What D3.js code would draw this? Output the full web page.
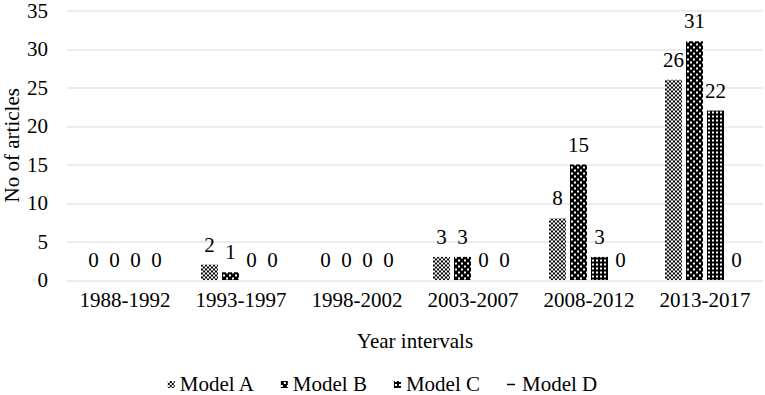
<!DOCTYPE html>
<html>
<head>
<meta charset="utf-8">
<script src="https://cdn.jsdelivr.net/npm/d3@7"></script>
<style>
  body { margin: 0; background: #fff; }
  svg text { font-family: "Liberation Serif", Tinos, "Times New Roman", Times, "DejaVu Serif", serif !important; fill: #000; }
</style>
</head>
<body>
<script>
// Chart data
var categories = ["1988-1992", "1993-1997", "1998-2002", "2003-2007", "2008-2012", "2013-2017"];
var seriesNames = ["Model A", "Model B", "Model C", "Model D"];
var modelA = [0, 2, 0, 3, 8, 26];
var modelB = [0, 1, 0, 3, 15, 31];
var modelC = [0, 0, 0, 0, 3, 22];
var modelD = [0, 0, 0, 0, 0, 0];
var yTicks = [0, 5, 10, 15, 20, 25, 30, 35];

var seriesValues = [modelA, modelB, modelC, modelD];

// Define SVG area dimensions
var svgWidth = 765;
var svgHeight = 395;
var fontSize = 21;

var chartMargin = { top: 10.5, right: 2, bottom: 115, left: 67 };
var chartWidth = svgWidth - chartMargin.left - chartMargin.right;
var chartHeight = svgHeight - chartMargin.top - chartMargin.bottom;

var svg = d3.select("body")
  .append("svg")
  .attr("width", svgWidth)
  .attr("height", svgHeight);

// fill patterns for the bars
var defs = svg.append("defs");

// Model A: fine checkerboard
var pA = defs.append("pattern").attr("id", "patA")
  .attr("patternUnits", "userSpaceOnUse").attr("width", 4).attr("height", 4);
pA.append("rect").attr("width", 4).attr("height", 4).attr("fill", "#fff");
pA.append("rect").attr("width", 2).attr("height", 2).attr("fill", "#000");
pA.append("rect").attr("x", 2).attr("y", 2).attr("width", 2).attr("height", 2).attr("fill", "#000");

// Model B: dark with white dots on a diagonal grid
var pB = defs.append("pattern").attr("id", "patB")
  .attr("patternUnits", "userSpaceOnUse").attr("width", 6).attr("height", 6);
pB.append("rect").attr("width", 6).attr("height", 6).attr("fill", "#000");
pB.append("rect").attr("x", 0).attr("y", 0).attr("width", 2).attr("height", 2).attr("fill", "#fff");
pB.append("rect").attr("x", 3).attr("y", 3).attr("width", 2).attr("height", 2).attr("fill", "#fff");

// Model C: dark with white squares on a square grid
var pC = defs.append("pattern").attr("id", "patC")
  .attr("patternUnits", "userSpaceOnUse").attr("width", 4).attr("height", 4);
pC.append("rect").attr("width", 4).attr("height", 4).attr("fill", "#000");
pC.append("rect").attr("x", 1).attr("y", 1).attr("width", 2).attr("height", 2).attr("fill", "#fff");

var fills = ["url(#patA)", "url(#patB)", "url(#patC)", "#000"];

var chartGroup = svg.append("g")
  .attr("transform", `translate(${chartMargin.left}, ${chartMargin.top})`);

// scales
var x0 = d3.scaleBand()
  .domain(categories)
  .range([0, chartWidth])
  .paddingInner(0.276)
  .paddingOuter(0.138);

var x1 = d3.scaleBand()
  .domain(seriesNames)
  .range([0, x0.bandwidth()])
  .paddingInner(0.19)
  .paddingOuter(0.095);

var yScale = d3.scaleLinear()
  .domain([0, 35])
  .range([chartHeight, 0]);

// gridlines
chartGroup.selectAll(".grid")
  .data(yTicks)
  .enter()
  .append("line")
  .attr("x1", 0)
  .attr("x2", chartWidth)
  .attr("y1", d => Math.round(yScale(d)) + 0.5)
  .attr("y2", d => Math.round(yScale(d)) + 0.5)
  .attr("stroke", "#d9d9d9")
  .attr("stroke-width", 1);

// y axis labels
var yAxis = d3.axisLeft(yScale).tickValues(yTicks).tickSize(0).tickPadding(19);
var yG = chartGroup.append("g").call(yAxis);
yG.select(".domain").remove();
yG.attr("font-family", null).attr("font-size", fontSize);

// x axis labels
var xAxis = d3.axisBottom(x0).tickSize(0).tickPadding(12);
var xG = chartGroup.append("g")
  .attr("transform", `translate(0, ${chartHeight})`)
  .call(xAxis);
xG.select(".domain").remove();
xG.attr("font-family", null).attr("font-size", fontSize);

// bars
var groups = chartGroup.selectAll(".group")
  .data(categories)
  .enter()
  .append("g")
  .attr("transform", d => `translate(${x0(d)}, 0)`);

var cells = groups.selectAll(".cell")
  .data((c, i) => seriesNames.map((s, j) => ({ s: s, j: j, v: seriesValues[j][i] })))
  .enter();

cells.append("rect")
  .attr("x", d => x1(d.s))
  .attr("y", d => yScale(d.v))
  .attr("width", x1.bandwidth())
  .attr("height", d => chartHeight - yScale(d.v))
  .attr("fill", d => fills[d.j]);

cells.append("text")
  .attr("x", d => x1(d.s) + x1.bandwidth() / 2)
  .attr("y", d => yScale(d.v) - 13)
  .attr("text-anchor", "middle")
  .attr("font-size", fontSize)
  .text(d => d.v);

// axis titles
svg.append("text")
  .attr("transform", `translate(19, ${chartMargin.top + chartHeight / 2}) rotate(-90)`)
  .attr("text-anchor", "middle")
  .attr("font-size", fontSize)
  .text("No of articles");

svg.append("text")
  .attr("x", chartMargin.left + chartWidth / 2)
  .attr("y", 348)
  .attr("text-anchor", "middle")
  .attr("font-size", fontSize)
  .text("Year intervals");

// legend
var legend = svg.append("g");
var lx = 0;
var itemGap = 27;
seriesNames.forEach(function(name, j) {
  var item = legend.append("g").attr("transform", `translate(${lx}, 0)`);
  if (j < 3) {
    item.append("rect")
      .attr("x", 0).attr("y", -10)
      .attr("width", 7).attr("height", 7)
      .attr("fill", fills[j]);
  } else {
    item.append("line")
      .attr("x1", 0).attr("x2", 8)
      .attr("y1", -6.5).attr("y2", -6.5)
      .attr("stroke", "#000").attr("stroke-width", 1.5);
  }
  var t = item.append("text")
    .attr("x", j < 3 ? 12 : 15)
    .attr("y", 0)
    .attr("font-size", fontSize)
    .text(name);
  lx += (j < 3 ? 12 : 15) + t.node().getComputedTextLength() + itemGap;
});
var legendWidth = lx - itemGap;
legend.attr("transform", `translate(${svgWidth / 2 - legendWidth / 2}, 391)`);
</script>
</body>
</html>
